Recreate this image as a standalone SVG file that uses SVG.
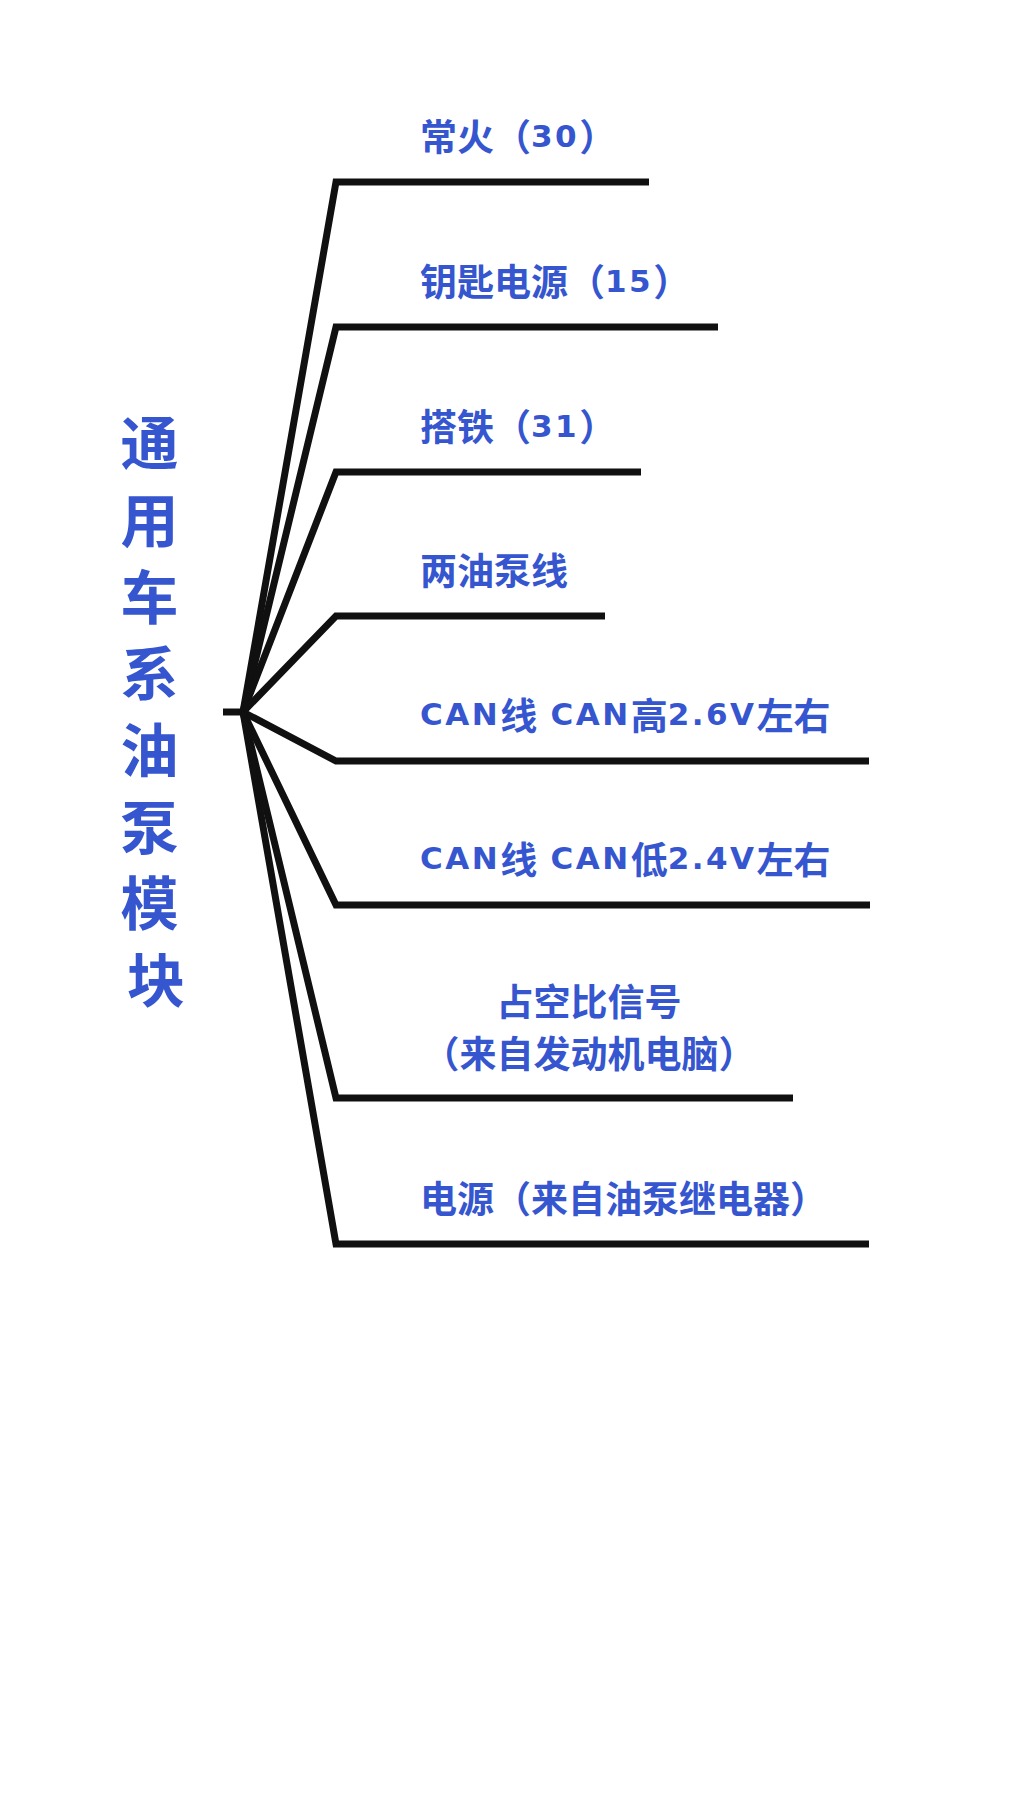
<svg xmlns="http://www.w3.org/2000/svg" width="1024" height="1820" viewBox="0 0 1024 1820">
  <style>
    .wire { fill: none; stroke: #101010; stroke-width: 7; stroke-linejoin: miter; stroke-linecap: butt; }
    .lbl { font-family: "Noto Sans CJK SC", "DejaVu Sans", sans-serif; font-weight: 700; font-size: 37px; fill: #3556cf; }
    .lat { font-family: "DejaVu Sans", "Noto Sans CJK SC", sans-serif; font-weight: 700; font-size: 31px; letter-spacing: 2.5px; }
    .title { font-family: "Noto Sans CJK SC", sans-serif; font-weight: 700; font-size: 58px; fill: #3556cf; text-anchor: middle; }
  </style>
  <rect width="1024" height="1820" fill="#ffffff"/>

  <g id="connectors">
    <path class="wire" d="M223,712 L243,712"/>
    <path class="wire" d="M243,712 L336,182 L649,182"/>
    <path class="wire" d="M243,712 L336,327 L718,327"/>
    <path class="wire" d="M243,712 L336,472 L641,472"/>
    <path class="wire" d="M243,712 L336,616 L605,616"/>
    <path class="wire" d="M243,712 L336,761 L869,761"/>
    <path class="wire" d="M243,712 L336,905 L870,905"/>
    <path class="wire" d="M243,712 L336,1098 L793,1098"/>
    <path class="wire" d="M243,712 L336,1244 L869,1244"/>
  </g>

  <g id="module">
    <text class="title">
      <tspan x="156" y="465">通</tspan>
      <tspan x="156" y="542">用</tspan>
      <tspan x="156" y="619">车</tspan>
      <tspan x="156" y="695">系</tspan>
      <tspan x="156" y="772">油</tspan>
      <tspan x="156" y="849">泵</tspan>
      <tspan x="156" y="925">模</tspan>
      <tspan x="156" y="1002">块</tspan>
    </text>
  </g>

  <g id="n-30">
    <text class="lbl" x="420" y="151">常火（<tspan class="lat" dy="-4">30</tspan><tspan dy="4">）</tspan></text>
  </g>
  <g id="n-15">
    <text class="lbl" x="420" y="296">钥匙电源（<tspan class="lat" dy="-4">15</tspan><tspan dy="4">）</tspan></text>
  </g>
  <g id="n-31">
    <text class="lbl" x="420" y="441">搭铁（<tspan class="lat" dy="-4">31</tspan><tspan dy="4">）</tspan></text>
  </g>
  <g id="n-pump">
    <text class="lbl" x="420" y="585">两油泵线</text>
  </g>
  <g id="n-canh">
    <text class="lbl" x="420" y="730"><tspan class="lat" dy="-5">CAN</tspan><tspan dy="5">线</tspan><tspan class="lat" dy="-5"> CAN</tspan><tspan dy="5">高</tspan><tspan class="lat" dy="-5">2.6V</tspan><tspan dy="5">左右</tspan></text>
  </g>
  <g id="n-canl">
    <text class="lbl" x="420" y="874"><tspan class="lat" dy="-5">CAN</tspan><tspan dy="5">线</tspan><tspan class="lat" dy="-5"> CAN</tspan><tspan dy="5">低</tspan><tspan class="lat" dy="-5">2.4V</tspan><tspan dy="5">左右</tspan></text>
  </g>
  <g id="n-duty">
    <text class="lbl" text-anchor="middle"><tspan x="589" y="1016">占空比信号</tspan><tspan x="589" y="1068">（来自发动机电脑）</tspan></text>
  </g>
  <g id="n-power">
    <text class="lbl" x="420" y="1213">电源（来自油泵继电器）</text>
  </g>
</svg>
